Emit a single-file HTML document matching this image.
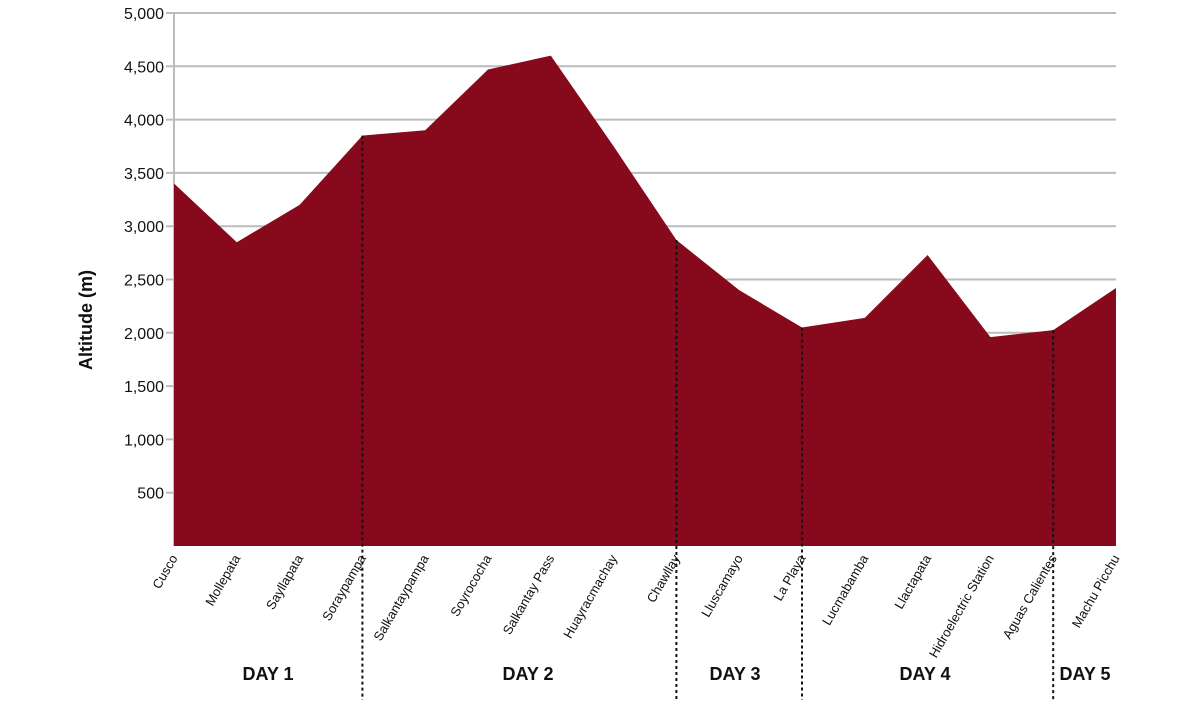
<!DOCTYPE html>
<html><head><meta charset="utf-8"><style>
body{margin:0;background:#fff;font-family:"Liberation Sans",sans-serif}
svg text{font-family:"Liberation Sans",sans-serif}
</style></head><body>
<svg id="chart" width="1200" height="700" xmlns="http://www.w3.org/2000/svg"></svg>
<script>
const categories=["Cusco","Mollepata","Sayllapata","Soraypampa","Salkantaypampa","Soyrococha","Salkantay Pass","Huayracmachay","Chawllay","Lluscamayo","La Playa","Lucmabamba","Llactapata","Hidroelectric Station","Aguas Calientes","Machu Picchu"];
const altitudes=[3400,2850,3200,3850,3900,4470,4600,3750,2870,2400,2050,2140,2730,1960,2025,2420];
const yTicks=[500,1000,1500,2000,2500,3000,3500,4000,4500,5000];
const dayDividers=[3,8,10,14];
const days=["DAY 1","DAY 2","DAY 3","DAY 4","DAY 5"];
const dayLabelX=[268,528,735,925,1085];
const NS="http://www.w3.org/2000/svg";
const svg=document.getElementById('chart');
const X0=174,X1=1116,Y0=546,Y5=13;
const x=i=>X0+i*(X1-X0)/(categories.length-1);
const y=v=>Y0-(v/5000)*(Y0-Y5);
function mk(t,a){const e=document.createElementNS(NS,t);for(const k in a)e.setAttribute(k,a[k]);svg.appendChild(e);return e;}
yTicks.forEach(v=>{
  const g=mk('line',{x1:X0-8,x2:X1,y1:y(v),y2:y(v),stroke:'#bcbcbc','stroke-width':2});
  
  
  const t=mk('text',{x:X0-10,y:y(v)+6,'text-anchor':'end','font-size':16,fill:'#111'});
  t.textContent=v.toLocaleString('en-US');
  
  
});
const ax=mk('line',{x1:X0,x2:X0,y1:Y5,y2:Y0,stroke:'#bcbcbc','stroke-width':2});


let d='M'+x(0)+','+Y0;
altitudes.forEach((v,i)=>{d+=' L'+x(i)+','+y(v);});
d+=' L'+x(altitudes.length-1)+','+Y0+' Z';
const area=mk('path',{d:d,fill:'#86091c'});


const yt=mk('text',{x:0,y:0,transform:'translate(92,320) rotate(-90)','text-anchor':'middle','font-size':18,'font-weight':'bold',fill:'#111'});
yt.textContent='Altitude (m)';


categories.forEach((c,i)=>{
  const t=mk('text',{x:0,y:0,transform:`translate(${x(i)+4},${Y0+12}) rotate(-60)`,'text-anchor':'end','font-size':13,fill:'#111'});
  t.textContent=c;
  
  
});
dayDividers.forEach(i=>{
  const l=mk('line',{x1:x(i),x2:x(i),y1:y(altitudes[i]),y2:700,stroke:'#111','stroke-width':2,'stroke-dasharray':'3,3'});
  
  
});
days.forEach((dd,i)=>{
  const t=mk('text',{x:dayLabelX[i],y:680,'text-anchor':'middle','font-size':18,'font-weight':'bold',fill:'#111'});
  t.textContent=dd;
  
  
});
</script>
</body></html>
